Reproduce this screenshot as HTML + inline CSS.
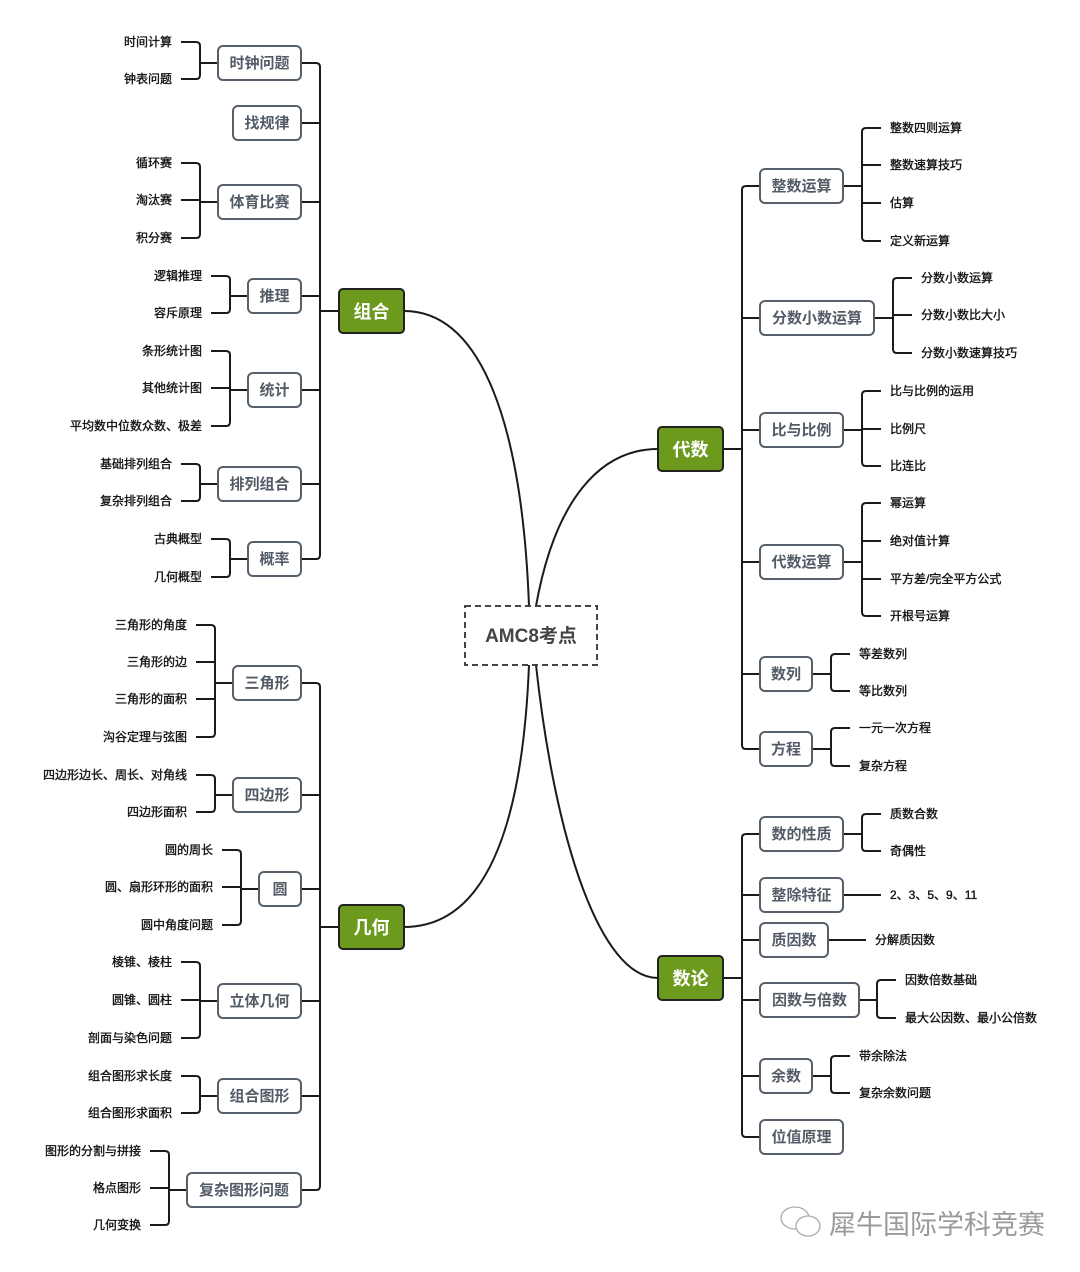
<!DOCTYPE html>
<html><head><meta charset="utf-8"><style>
html,body{margin:0;padding:0;background:#fff;}
svg{display:block;}
.l{fill:none;stroke:#1a1a1a;stroke-width:2;}
.b{fill:#fff;stroke:#56606b;stroke-width:2;}
.m{fill:#6b9a1c;stroke:#222;stroke-width:2;}
text{font-family:"Liberation Sans","Noto Sans CJK SC",sans-serif;}
.t{font-size:12px;fill:#111;stroke:#111;stroke-width:0.35;}
.e{text-anchor:end;}
.s{font-size:15px;font-weight:bold;fill:#535c66;text-anchor:middle;}
.mt{font-size:18px;font-weight:bold;fill:#fff;text-anchor:middle;}
</style></head><body>
<svg width="1080" height="1272" viewBox="0 0 1080 1272" xmlns="http://www.w3.org/2000/svg">
<path class="l" d="M529,606 C522,420 480,311 404,311"/>
<path class="l" d="M536,606 C555,500 600,449 658,449"/>
<path class="l" d="M529,665 C522,840 480,927 404,927"/>
<path class="l" d="M536,665 C555,840 600,978 658,978"/>
<rect x="465" y="606" width="132" height="59" fill="#fff" stroke="#444" stroke-width="2" stroke-dasharray="6,4"/>
<text x="531" y="642" class="s" style="font-size:19px;fill:#444">AMC8考点</text>

<path class="l" d="M301,63 H316 Q320,63 320,67 V555 Q320,559 316,559 H301 M301,123H320 M301,202H320 M301,296H320 M301,390H320 M301,484H320 M339,311H320"/>
<path class="l" d="M181,42H196Q200,42 200,46V75Q200,79 196,79H181 M200,63H218"/>
<path class="l" d="M181,163H196Q200,163 200,167V234Q200,238 196,238H181 M181,200H200 M200,202H218"/>
<path class="l" d="M211,276H226Q230,276 230,280V309Q230,313 226,313H211 M230,296H248"/>
<path class="l" d="M211,351H226Q230,351 230,355V422Q230,426 226,426H211 M211,388H230 M230,390H248"/>
<path class="l" d="M181,464H196Q200,464 200,468V497Q200,501 196,501H181 M200,484H218"/>
<path class="l" d="M211,539H226Q230,539 230,543V573Q230,577 226,577H211 M230,559H248"/>
<rect class="b" x="218" y="46" width="83" height="34" rx="5"/><text class="s" x="259.5" y="68">时钟问题</text>
<rect class="b" x="233" y="106" width="68" height="34" rx="5"/><text class="s" x="267" y="128">找规律</text>
<rect class="b" x="218" y="185" width="83" height="34" rx="5"/><text class="s" x="259.5" y="207">体育比赛</text>
<rect class="b" x="248" y="279" width="53" height="34" rx="5"/><text class="s" x="274.5" y="301">推理</text>
<rect class="b" x="248" y="373" width="53" height="34" rx="5"/><text class="s" x="274.5" y="395">统计</text>
<rect class="b" x="218" y="467" width="83" height="34" rx="5"/><text class="s" x="259.5" y="489">排列组合</text>
<rect class="b" x="248" y="542" width="53" height="34" rx="5"/><text class="s" x="274.5" y="564">概率</text>
<text class="t e" x="172" y="46">时间计算</text><text class="t e" x="172" y="83">钟表问题</text>
<text class="t e" x="172" y="167">循环赛</text><text class="t e" x="172" y="204">淘汰赛</text><text class="t e" x="172" y="242">积分赛</text>
<text class="t e" x="202" y="280">逻辑推理</text><text class="t e" x="202" y="317">容斥原理</text>
<text class="t e" x="202" y="355">条形统计图</text><text class="t e" x="202" y="392">其他统计图</text><text class="t e" x="202" y="430">平均数中位数众数、极差</text>
<text class="t e" x="172" y="468">基础排列组合</text><text class="t e" x="172" y="505">复杂排列组合</text>
<text class="t e" x="202" y="543">古典概型</text><text class="t e" x="202" y="581">几何概型</text>
<rect class="m" x="339" y="289" width="65" height="44" rx="4"/><text class="mt" x="371.5" y="318">组合</text>

<path class="l" d="M301,683 H316 Q320,683 320,687 V1186 Q320,1190 316,1190 H301 M301,795H320 M301,889H320 M301,1001H320 M301,1096H320 M339,927H320"/>
<path class="l" d="M196,625H211Q215,625 215,629V733Q215,737 211,737H196 M196,662H215 M196,699H215 M215,683H233"/>
<path class="l" d="M196,775H211Q215,775 215,779V808Q215,812 211,812H196 M215,795H233"/>
<path class="l" d="M222,850H237Q241,850 241,854V921Q241,925 237,925H222 M222,887H241 M241,889H259"/>
<path class="l" d="M181,962H196Q200,962 200,966V1034Q200,1038 196,1038H181 M181,1000H200 M200,1001H218"/>
<path class="l" d="M181,1076H196Q200,1076 200,1080V1109Q200,1113 196,1113H181 M200,1096H218"/>
<path class="l" d="M150,1151H165Q169,1151 169,1155V1221Q169,1225 165,1225H150 M150,1188H169 M169,1190H187"/>
<rect class="b" x="233" y="666" width="68" height="34" rx="5"/><text class="s" x="267" y="688">三角形</text>
<rect class="b" x="233" y="778" width="68" height="34" rx="5"/><text class="s" x="267" y="800">四边形</text>
<rect class="b" x="259" y="872" width="42" height="34" rx="5"/><text class="s" x="280" y="894">圆</text>
<rect class="b" x="218" y="984" width="83" height="34" rx="5"/><text class="s" x="259.5" y="1006">立体几何</text>
<rect class="b" x="218" y="1079" width="83" height="34" rx="5"/><text class="s" x="259.5" y="1101">组合图形</text>
<rect class="b" x="187" y="1173" width="114" height="34" rx="5"/><text class="s" x="244" y="1195">复杂图形问题</text>
<text class="t e" x="187" y="629">三角形的角度</text><text class="t e" x="187" y="666">三角形的边</text><text class="t e" x="187" y="703">三角形的面积</text><text class="t e" x="187" y="741">沟谷定理与弦图</text>
<text class="t e" x="187" y="779">四边形边长、周长、对角线</text><text class="t e" x="187" y="816">四边形面积</text>
<text class="t e" x="213" y="854">圆的周长</text><text class="t e" x="213" y="891">圆、扇形环形的面积</text><text class="t e" x="213" y="929">圆中角度问题</text>
<text class="t e" x="172" y="966">棱锥、棱柱</text><text class="t e" x="172" y="1004">圆锥、圆柱</text><text class="t e" x="172" y="1042">剖面与染色问题</text>
<text class="t e" x="172" y="1080">组合图形求长度</text><text class="t e" x="172" y="1117">组合图形求面积</text>
<text class="t e" x="141" y="1155">图形的分割与拼接</text><text class="t e" x="141" y="1192">格点图形</text><text class="t e" x="141" y="1229">几何变换</text>
<rect class="m" x="339" y="905" width="65" height="44" rx="4"/><text class="mt" x="371.5" y="934">几何</text>

<path class="l" d="M760,186 H746 Q742,186 742,190 V745 Q742,749 746,749 H760 M760,318H742 M760,430H742 M760,562H742 M760,674H742 M723,449H742"/>
<path class="l" d="M843,186H862 M881,128H866Q862,128 862,132V237Q862,241 866,241H881 M881,165H862 M881,203H862"/>
<path class="l" d="M874,318H893 M912,278H897Q893,278 893,282V349Q893,353 897,353H912 M912,315H893"/>
<path class="l" d="M843,430H862 M881,391H866Q862,391 862,395V462Q862,466 866,466H881 M881,429H862"/>
<path class="l" d="M843,562H862 M881,503H866Q862,503 862,507V612Q862,616 866,616H881 M881,541H862 M881,579H862"/>
<path class="l" d="M812,674H831 M850,654H835Q831,654 831,658V687Q831,691 835,691H850"/>
<path class="l" d="M812,749H831 M850,728H835Q831,728 831,732V762Q831,766 835,766H850"/>
<rect class="b" x="760" y="169" width="83" height="34" rx="5"/><text class="s" x="801.5" y="191">整数运算</text>
<rect class="b" x="760" y="301" width="114" height="34" rx="5"/><text class="s" x="817" y="323">分数小数运算</text>
<rect class="b" x="760" y="413" width="83" height="34" rx="5"/><text class="s" x="801.5" y="435">比与比例</text>
<rect class="b" x="760" y="545" width="83" height="34" rx="5"/><text class="s" x="801.5" y="567">代数运算</text>
<rect class="b" x="760" y="657" width="52" height="34" rx="5"/><text class="s" x="786" y="679">数列</text>
<rect class="b" x="760" y="732" width="52" height="34" rx="5"/><text class="s" x="786" y="754">方程</text>
<text class="t" x="890" y="132">整数四则运算</text><text class="t" x="890" y="169">整数速算技巧</text><text class="t" x="890" y="207">估算</text><text class="t" x="890" y="245">定义新运算</text>
<text class="t" x="921" y="282">分数小数运算</text><text class="t" x="921" y="319">分数小数比大小</text><text class="t" x="921" y="357">分数小数速算技巧</text>
<text class="t" x="890" y="395">比与比例的运用</text><text class="t" x="890" y="433">比例尺</text><text class="t" x="890" y="470">比连比</text>
<text class="t" x="890" y="507">幂运算</text><text class="t" x="890" y="545">绝对值计算</text><text class="t" x="890" y="583">平方差/完全平方公式</text><text class="t" x="890" y="620">开根号运算</text>
<text class="t" x="859" y="658">等差数列</text><text class="t" x="859" y="695">等比数列</text>
<text class="t" x="859" y="732">一元一次方程</text><text class="t" x="859" y="770">复杂方程</text>
<rect class="m" x="658" y="427" width="65" height="44" rx="4"/><text class="mt" x="690.5" y="456">代数</text>

<path class="l" d="M760,834 H746 Q742,834 742,838 V1133 Q742,1137 746,1137 H760 M760,895H742 M760,940H742 M760,1000H742 M760,1076H742 M723,978H742"/>
<path class="l" d="M843,834H862 M881,814H866Q862,814 862,818V847Q862,851 866,851H881"/>
<path class="l" d="M843,895H881 M828,940H866"/>
<path class="l" d="M859,1000H877 M896,980H881Q877,980 877,984V1014Q877,1018 881,1018H896"/>
<path class="l" d="M812,1076H831 M850,1056H835Q831,1056 831,1060V1089Q831,1093 835,1093H850"/>
<rect class="b" x="760" y="817" width="83" height="34" rx="5"/><text class="s" x="801.5" y="839">数的性质</text>
<rect class="b" x="760" y="878" width="83" height="34" rx="5"/><text class="s" x="801.5" y="900">整除特征</text>
<rect class="b" x="760" y="923" width="68" height="34" rx="5"/><text class="s" x="794" y="945">质因数</text>
<rect class="b" x="760" y="983" width="99" height="34" rx="5"/><text class="s" x="809.5" y="1005">因数与倍数</text>
<rect class="b" x="760" y="1059" width="52" height="34" rx="5"/><text class="s" x="786" y="1081">余数</text>
<rect class="b" x="760" y="1120" width="83" height="34" rx="5"/><text class="s" x="801.5" y="1142">位值原理</text>
<text class="t" x="890" y="818">质数合数</text><text class="t" x="890" y="855">奇偶性</text>
<text class="t" x="890" y="899">2、3、5、9、11</text>
<text class="t" x="875" y="944">分解质因数</text>
<text class="t" x="905" y="984">因数倍数基础</text><text class="t" x="905" y="1022">最大公因数、最小公倍数</text>
<text class="t" x="859" y="1060">带余除法</text><text class="t" x="859" y="1097">复杂余数问题</text>
<rect class="m" x="658" y="956" width="65" height="44" rx="4"/><text class="mt" x="690.5" y="985">数论</text>

<g fill="#fff" stroke="#aaa" stroke-width="1.3">
<ellipse cx="795" cy="1218" rx="14" ry="11"/>
<ellipse cx="808" cy="1226" rx="12" ry="10"/>
</g>
<text x="829" y="1234" style="font-size:27px;fill:#9a9a9a;">犀牛国际学科竞赛</text>
</svg>
</body></html>
